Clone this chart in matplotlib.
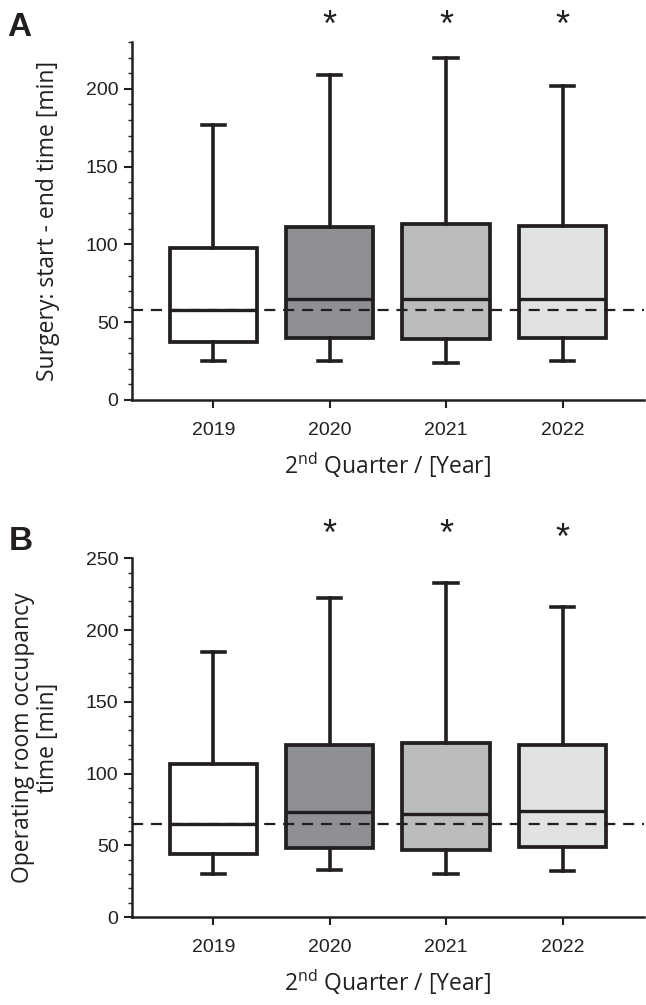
import numpy as np
import matplotlib.pyplot as plt
from matplotlib.ticker import MultipleLocator
plt.switch_backend('agg')

years = ['2019', '2020', '2021', '2022']
fills = ['#ffffff', '#8f9094', '#bbbcbe', '#e1e2e4']

# panel A: surgery start - end time [min]
a_whislo = [25, 25, 24, 25]
a_q1 = [37, 40, 39, 40]
a_med = [58, 65, 65, 65]
a_q3 = [98, 111, 113, 112]
a_whishi = [177, 209, 220, 202]
a_ref = 58
a_star = [False, True, True, True]

# panel B: operating room occupancy time [min]
b_whislo = [30, 33, 30, 32]
b_q1 = [44, 48, 47, 49]
b_med = [65, 73, 72, 74]
b_q3 = [107, 120, 121, 120]
b_whishi = [185, 222, 233, 216]
b_ref = 65
b_star = [False, True, True, True]

tickfont = 'Liberation Sans'
labfont = 'Open Sans'
ink = '#231f20'
plt.rcParams['mathtext.fontset'] = 'custom'
plt.rcParams['mathtext.rm'] = labfont


def makeStats(lo, q1, med, q3, hi):
    stats = []
    for i in range(len(lo)):
        stats.append(dict(whislo=lo[i], q1=q1[i], med=med[i], q3=q3[i], whishi=hi[i], fliers=[]))
    return stats


def plotPanel(ax, stats, ref, stars, star_y, ymax, ylabel):
    pos = np.arange(1, len(stats) + 1)
    bp = ax.bxp(stats, positions=pos, widths=0.75, capwidths=0.2, patch_artist=True,
                showfliers=False,
                boxprops=dict(linewidth=2.7, edgecolor=ink),
                medianprops=dict(linewidth=2.4, color=ink),
                whiskerprops=dict(linewidth=2.6, color=ink),
                capprops=dict(linewidth=2.6, color=ink))
    for patch, c in zip(bp['boxes'], fills):
        patch.set_facecolor(c)
    ax.axhline(ref, color=ink, lw=1.6, ls=(0, (5, 3.5)), zorder=5)
    for i, s in enumerate(stars):
        if s:
            ax.text(pos[i], star_y[i], '*', ha='center', va='center', fontsize=26,
                    family=tickfont, clip_on=False, color=ink)
    ax.set_xlim(0.3, 4.7)
    ax.set_ylim(0, ymax)
    ax.set_xticks(pos)
    ax.set_xticklabels(years, family=tickfont, fontsize=14, color=ink)
    ax.yaxis.set_major_locator(MultipleLocator(50))
    ax.yaxis.set_minor_locator(MultipleLocator(10))
    for lab in ax.get_yticklabels():
        lab.set_family(tickfont)
        lab.set_fontsize(14)
        lab.set_color(ink)
    ax.tick_params(axis='both', which='major', length=6, width=1.5, colors=ink)
    ax.tick_params(axis='y', which='minor', length=3, width=1.0, colors=ink)
    ax.tick_params(axis='x', pad=10)
    for sp in ['top', 'right']:
        ax.spines[sp].set_visible(False)
    for sp in ['left', 'bottom']:
        ax.spines[sp].set_linewidth(1.8)
        ax.spines[sp].set_color(ink)
    ax.set_ylabel(ylabel, family=labfont, fontsize=16.5, color=ink, linespacing=1.05)
    ax.yaxis.set_label_coords(-0.14, 0.5)
    ax.set_xlabel('2$^{\\rm nd}$ Quarter / [Year]', family=labfont, fontsize=16.5,
                  color=ink, labelpad=8)


fig = plt.figure(figsize=[6.46, 10.05], dpi=100)
axA = fig.add_axes([0.204, 0.602, 0.793, 0.356])
axB = fig.add_axes([0.204, 0.0875, 0.793, 0.357])

plotPanel(axA, makeStats(a_whislo, a_q1, a_med, a_q3, a_whishi), a_ref, a_star,
          [240, 240, 240, 240], 230, 'Surgery: start - end time [min]')
plotPanel(axB, makeStats(b_whislo, b_q1, b_med, b_q3, b_whishi), b_ref, b_star,
          [266, 266, 266, 263], 250, 'Operating room occupancy\ntime [min]')

fig.text(7 / 646, 1 - 36 / 1005, 'A', family='Liberation Sans', fontsize=24,
         fontweight='bold', va='baseline', ha='left', color=ink)
fig.text(9 / 646, 1 - 550 / 1005, 'B', family='Liberation Sans', fontsize=24,
         fontweight='bold', va='baseline', ha='left', color=ink)

plt.savefig('out.png', dpi=100)
plt.close('all')
